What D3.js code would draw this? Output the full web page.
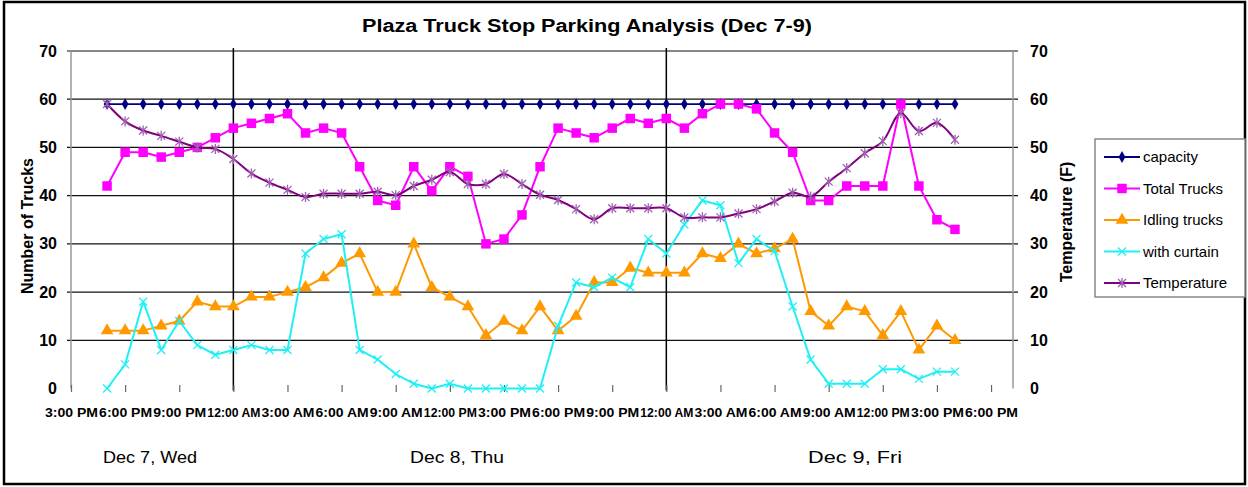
<!DOCTYPE html>
<html>
<head>
<meta charset="utf-8">
<title>Plaza Truck Stop Parking Analysis</title>
<script src="https://d3js.org/d3.v7.min.js"></script>
<style>
  body { margin: 0; background: #fff; font-family: "Liberation Sans", Arial, sans-serif; }
  svg text { fill: #000; }
</style>
</head>
<body>
<div id="chart"></div>
<script>
// hourly readings, Dec 7 5:00 PM -> Dec 9 4:00 PM
var capacity = [59,59,59,59,59,59,59,59,59,59,59,59,59,59,59,59,59,59,59,59,59,59,59,59,
                59,59,59,59,59,59,59,59,59,59,59,59,59,59,59,59,59,59,59,59,59,59,59,59];
var totalTrucks = [42,49,49,48,49,50,52,54,55,56,57,53,54,53,46,39,38,46,41,46,44,30,31,36,
                   46,54,53,52,54,56,55,56,54,57,59,59,58,53,49,39,39,42,42,42,59,42,35,33];
var idlingTrucks = [12,12,12,13,14,18,17,17,19,19,20,21,23,26,28,20,20,30,21,19,17,11,14,12,
                    17,12,15,22,22,25,24,24,24,28,27,30,28,29,31,16,13,17,16,11,16,8,13,10];
var withCurtain = [0,5,18,8,14,9,7,8,9,8,8,28,31,32,8,6,3,1,0,1,0,0,0,0,
                   0,13,22,21,23,21,31,28,34,39,38,26,31,28.5,17,6,1,1,1,4,4,2,3.5,3.5];
var temperature = [59,55.4,53.5,52.4,51.2,50,49.7,47.6,44.6,42.7,41.2,39.7,40.4,40.4,40.4,40.8,40.1,42,
                   43.3,44.9,42.4,42.4,44.5,42.4,40.2,39.1,37.2,35.1,37.4,37.4,37.4,37.4,35.5,35.5,35.5,36.3,
                   37.2,38.8,40.6,39.8,42.9,45.7,48.8,51.3,57.1,53.4,55.1,51.6];

var tickLabels = ["3:00 PM","6:00 PM","9:00 PM","12:00 AM","3:00 AM","6:00 AM","9:00 AM","12:00 PM","3:00 PM",
                  "6:00 PM","9:00 PM","12:00 AM","3:00 AM","6:00 AM","9:00 AM","12:00 PM","3:00 PM","6:00 PM"];
var dayLabels = ["Dec 7, Wed", "Dec 8, Thu", "Dec 9, Fri"];
var yTicks = [0,10,20,30,40,50,60,70];

var seriesNames = ["capacity", "Total Trucks", "Idling trucks", "with curtain", "Temperature"];

var width = 1248, height = 487;
var plotLeft = 71, plotRight = 1013, plotTop = 51, plotBottom = 388.5;

var start = new Date(2011, 11, 7, 15, 0);
var end = new Date(2011, 11, 9, 19, 13);
var firstReading = new Date(2011, 11, 7, 17, 0);
var times = d3.timeHour.range(firstReading, d3.timeHour.offset(firstReading, capacity.length));
var tickTimes = d3.timeHour.every(3).range(start, d3.timeHour.offset(start, 3 * tickLabels.length));
var midnights = [new Date(2011, 11, 8), new Date(2011, 11, 9)];

var x = d3.scaleTime().domain([start, end]).range([plotLeft, plotRight]);
var y = d3.scaleLinear().domain([0, 70]).range([plotBottom, plotTop]);
var yRight = d3.scaleLinear().domain([0, 70]).range([plotBottom, plotTop]);

var svg = d3.select("#chart").append("svg")
  .attr("width", width)
  .attr("height", height);

svg.append("rect").attr("width", width).attr("height", height).attr("fill", "#fff");
// outer frame
svg.append("rect")
  .attr("x", 4).attr("y", 2).attr("width", 1241).attr("height", 482)
  .attr("fill", "none").attr("stroke", "#000").attr("stroke-width", 2.5);

// title
svg.append("text")
  .attr("x", 587).attr("y", 32)
  .attr("text-anchor", "middle")
  .attr("font-size", 18).attr("font-weight", "bold")
  .attr("textLength", 450).attr("lengthAdjust", "spacingAndGlyphs")
  .text("Plaza Truck Stop Parking Analysis (Dec 7-9)");

// horizontal gridlines
svg.append("g").selectAll("line")
  .data(yTicks.filter(function(d) { return d > 0; }))
  .enter().append("line")
  .attr("x1", plotLeft - 4).attr("x2", plotRight + 5)
  .attr("y1", function(d) { return y(d); }).attr("y2", function(d) { return y(d); })
  .attr("stroke", "#111").attr("stroke-width", 1.2);

// side axis lines
svg.append("line").attr("x1", plotLeft).attr("x2", plotLeft).attr("y1", plotTop).attr("y2", plotBottom)
  .attr("stroke", "#999").attr("stroke-width", 1.5);
svg.append("line").attr("x1", plotRight).attr("x2", plotRight).attr("y1", plotTop).attr("y2", plotBottom)
  .attr("stroke", "#999").attr("stroke-width", 1.5);

// midnight separators
svg.append("g").selectAll("line")
  .data(midnights)
  .enter().append("line")
  .attr("x1", function(d) { return x(d); }).attr("x2", function(d) { return x(d); })
  .attr("y1", plotTop - 3).attr("y2", plotBottom + 2)
  .attr("stroke", "#000").attr("stroke-width", 1.5);

// y axes labels
var yAxisL = svg.append("g").attr("transform", "translate(" + plotLeft + ",0)")
  .call(d3.axisLeft(y).tickValues(yTicks).tickSize(0).tickPadding(14));
yAxisL.select(".domain").remove();
yAxisL.selectAll("text").attr("font-size", 16).attr("font-weight", "bold")
  .attr("font-family", "'Liberation Sans', Arial, sans-serif").attr("fill", "#000");

var yAxisR = svg.append("g").attr("transform", "translate(" + plotRight + ",0)")
  .call(d3.axisRight(yRight).tickValues(yTicks).tickSize(0).tickPadding(17));
yAxisR.select(".domain").remove();
yAxisR.selectAll("text").attr("font-size", 16).attr("font-weight", "bold")
  .attr("font-family", "'Liberation Sans', Arial, sans-serif").attr("fill", "#000");

// x axis
var xAxis = svg.append("g").attr("transform", "translate(0," + (plotBottom - 3.5) + ")")
  .call(d3.axisBottom(x).tickValues(tickTimes)
    .tickFormat(function(d, i) { return tickLabels[i]; })
    .tickSize(7).tickPadding(0));
xAxis.select(".domain").remove();
xAxis.selectAll(".tick line").attr("stroke", "#666").attr("stroke-width", 1.2);
xAxis.selectAll("text")
  .attr("y", 32).attr("dy", 0)
  .attr("font-size", 12).attr("font-weight", "bold")
  .attr("font-family", "'Liberation Sans', Arial, sans-serif").attr("fill", "#000")
  .attr("textLength", 53).attr("lengthAdjust", "spacingAndGlyphs");

// day labels
var dayX = [150, 457, 855];
svg.append("g").selectAll("text")
  .data(dayLabels)
  .enter().append("text")
  .attr("x", function(d, i) { return dayX[i]; })
  .attr("y", 463)
  .attr("text-anchor", "middle")
  .attr("font-size", 17)
  .attr("textLength", 94).attr("lengthAdjust", "spacingAndGlyphs")
  .text(function(d) { return d; });

// axis titles
svg.append("text")
  .attr("transform", "translate(33,226) rotate(-90)")
  .attr("text-anchor", "middle")
  .attr("font-size", 16).attr("font-weight", "bold")
  .text("Number of Trucks");
svg.append("text")
  .attr("transform", "translate(1072,222) rotate(-90)")
  .attr("text-anchor", "middle")
  .attr("font-size", 16).attr("font-weight", "bold")
  .text("Temperature (F)");

// marker shapes
function markerPath(kind) {
  if (kind === "diamond") return d3.symbol().type(d3.symbolDiamond).size(40)();
  if (kind === "square") return d3.symbol().type(d3.symbolSquare).size(90)();
  if (kind === "triangle") return d3.symbol().type(d3.symbolTriangle).size(70)();
  if (kind === "x") return "M-4,-4L4,4M-4,4L4,-4";
  return "M-4,-4L4,4M-4,4L4,-4M0,-5L0,5";
}

var series = [
  { name: seriesNames[0], values: capacity, color: "#000080", marker: "diamond", mcolor: "#000080", scale: y, width: 1.8 },
  { name: seriesNames[1], values: totalTrucks, color: "#ff00ff", marker: "square", mcolor: "#ff00ff", scale: y, width: 2 },
  { name: seriesNames[2], values: idlingTrucks, color: "#ff9900", marker: "triangle", mcolor: "#ff9900", scale: y, width: 2 },
  { name: seriesNames[3], values: withCurtain, color: "#1ff0f5", marker: "x", mcolor: "#1ff0f5", scale: y, width: 2 },
  { name: seriesNames[4], values: temperature, color: "#800080", marker: "star", mcolor: "#a060b0", scale: yRight, width: 2, smooth: true }
];

var plot = svg.append("g");

// draw order: capacity, total trucks, idling, curtain, temperature
series.forEach(function(s) {
  var line = d3.line()
    .x(function(d, i) { return x(times[i]); })
    .y(function(d) { return s.scale(d); })
    .curve(s.smooth ? d3.curveCatmullRom.alpha(0.5) : d3.curveLinear);

  var g = plot.append("g");
  g.append("path")
    .datum(s.values)
    .attr("d", line)
    .attr("fill", "none")
    .attr("stroke", s.color)
    .attr("stroke-width", s.width)
    .attr("stroke-linejoin", "round");

  var stroked = (s.marker === "x" || s.marker === "star");
  g.selectAll(".m")
    .data(s.values)
    .enter().append("path")
    .attr("transform", function(d, i) { return "translate(" + x(times[i]) + "," + s.scale(d) + ")"; })
    .attr("d", markerPath(s.marker))
    .attr("fill", stroked ? "none" : s.mcolor)
    .attr("stroke", stroked ? s.mcolor : "none")
    .attr("stroke-width", stroked ? 1.3 : 0);
});

// legend
var legend = svg.append("g");
legend.append("rect")
  .attr("x", 1095).attr("y", 139).attr("width", 150).attr("height", 158)
  .attr("fill", "#fff").attr("stroke", "#888").attr("stroke-width", 1.5);

var legendY = d3.scalePoint().domain(seriesNames).range([157, 283]);
series.forEach(function(s) {
  var ly = legendY(s.name);
  var item = legend.append("g");
  item.append("line")
    .attr("x1", 1104).attr("x2", 1140).attr("y1", ly).attr("y2", ly)
    .attr("stroke", s.color).attr("stroke-width", 2);
  var stroked = (s.marker === "x" || s.marker === "star");
  item.append("path")
    .attr("transform", "translate(1122," + ly + ")")
    .attr("d", markerPath(s.marker))
    .attr("fill", stroked ? "none" : s.mcolor)
    .attr("stroke", stroked ? s.mcolor : "none")
    .attr("stroke-width", stroked ? 1.3 : 0);
  item.append("text")
    .attr("x", 1143).attr("y", ly + 5)
    .attr("font-size", 15)
    .text(s.name);
});
</script>
</body>
</html>
